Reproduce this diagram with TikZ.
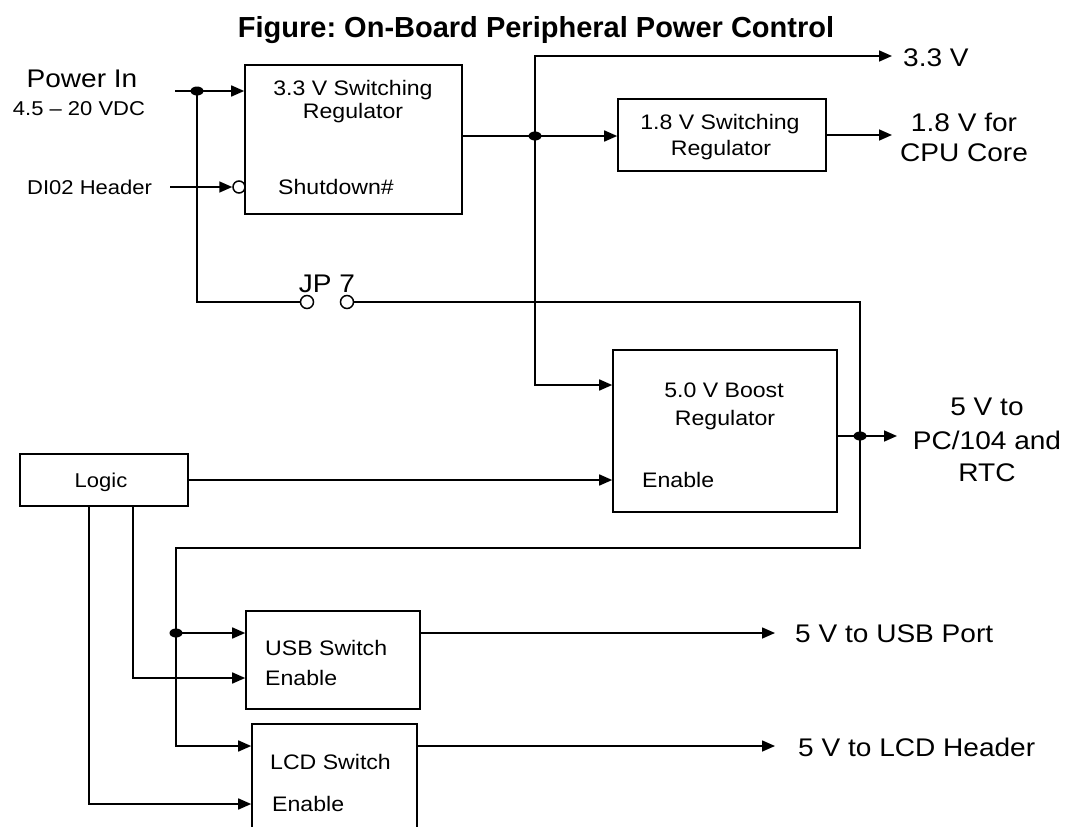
\documentclass[tikz,border=0pt]{standalone}
\usepackage{fontspec}
\setmainfont{Liberation Sans}
\newfontfamily\wf[FakeStretch=1.1]{Liberation Sans}
\usetikzlibrary{arrows.meta,shapes.geometric}
\frenchspacing
\tikzset{
  wire/.style={line width=1.6pt},
  arr/.style={wire,-{Triangle[length=13pt,width=11pt]}},
  box/.style={draw,line width=1.6pt,rectangle,inner sep=0},
  dot/.style={ellipse,fill,inner sep=0,minimum width=13pt,minimum height=9pt},
  bub/.style={circle,draw,line width=1.5pt,inner sep=0,minimum size=12pt},
  lb/.style={font=\wf\fontsize{25.5}{30}\selectfont,inner sep=0,text height=18.3pt,text depth=0pt},
  bx/.style={font=\wf\fontsize{21}{25}\selectfont,inner sep=0,text height=15pt,text depth=0pt},
  sm/.style={font=\wf\fontsize{20}{24}\selectfont,inner sep=0,text height=14.3pt,text depth=0pt},
  ttl/.style={font=\bfseries\fontsize{29}{33}\selectfont,inner sep=0,text height=21pt,text depth=0pt}
}
\begin{document}
\begin{tikzpicture}[x=1pt,y=-1pt]
\clip (0,0) rectangle (1066,827);
\fill[white] (0,0) rectangle (1066,827);
% title
\node[ttl] (title) at (536,27) {Figure: On-Board Peripheral Power Control};
% boxes
\node[box,minimum width=217pt,minimum height=149pt] (r33) at (353.5,139.5) {};
\node[box,minimum width=208pt,minimum height=72pt] (r18) at (722,135) {};
\node[box,minimum width=224pt,minimum height=162pt] (boost) at (725,431) {};
\node[box,minimum width=168pt,minimum height=52pt] (logic) at (104,480) {};
\node[box,minimum width=174pt,minimum height=98pt] (usb) at (333,660) {};
\node[box,minimum width=165pt,minimum height=146pt] (lcd) at (334.5,797) {};
% box texts
\node[bx] (t33a) at (353,88) {3.3 V Switching};
\node[bx] (t33b) at (353,111) {Regulator};
\node[bx,anchor=west] (tsd) at (278,187) {Shutdown\#};
\node[bx] (t18a) at (720,122) {1.8 V Switching};
\node[bx] (t18b) at (721,148) {Regulator};
\node[bx] (tba) at (724,390) {5.0 V Boost};
\node[bx] (tbb) at (725,418) {Regulator};
\node[bx,anchor=west] (tben) at (642,480) {Enable};
\node[sm] (tlog) at (101,480) {Logic};
\node[bx,anchor=west] (tusb) at (265,648) {USB Switch};
\node[bx,anchor=west] (tusbe) at (265,678) {Enable};
\node[bx,anchor=west] (tlcd) at (270,762) {LCD Switch};
\node[bx,anchor=west] (tlcde) at (272,804) {Enable};
% outside labels
\node[lb] (pin) at (82,78) {Power In};
\node[sm] (vdc) at (79,108) {4.5 – 20 VDC};
\node[sm,anchor=west] (dio) at (27,187) {DI02 Header};
\node[lb] (jpl) at (327,283) {JP 7};
\node[lb,anchor=west] (o33) at (903,57) {3.3 V};
\node[lb] (o18a) at (964,122) {1.8 V for};
\node[lb] (o18b) at (964,152) {CPU Core};
\node[lb] (o5a) at (987,406) {5 V to};
\node[lb] (o5b) at (987,440) {PC/104 and};
\node[lb] (o5c) at (987,472) {RTC};
\node[lb,anchor=west] (ousb) at (795,633) {5 V to USB Port};
\node[lb,anchor=west] (olcd) at (798,747) {5 V to LCD Header};
% junctions and symbols
\node[dot] (d1) at (197,91) {};
\node[dot] (d2) at (535,136) {};
\node[dot] (d5) at (860,436) {};
\node[dot] (du) at (176,633) {};
\node[bub] (sd) at (239,187) {};
\node[bub,minimum size=13pt] (j1) at (307,302) {};
\node[bub,minimum size=13pt] (j2) at (347,302) {};
% free ends / bends
\coordinate (pinS) at (175,91);
\coordinate (dioS) at (170,187);
\coordinate (top) at (535,56);
\coordinate (a33) at (892,56);
\coordinate (a18) at (892,135);
\coordinate (a5) at (897,436);
\coordinate (bin) at (535,385);
\coordinate (ret) at (860,548);
\coordinate (lcdin) at (176,746);
\coordinate (l1) at (89,506);
\coordinate (l2) at (133,506);
\coordinate (au) at (775,633);
\coordinate (al) at (775,746);
% power in
\draw[wire] (pinS) -- (d1.center);
\draw[arr] (d1.center) -- (r33.west |- d1.center);
\draw[arr] (dioS) -- (sd.west);
% jumper path
\draw[wire] (d1.center) -- (d1.center |- j1) -- (j1.west);
\draw[arr] (j2.east) -- (j2.east -| ret) -- (ret) -- (ret -| du) -- (lcdin) -- (lcd.west |- lcdin);
\draw[arr] (du.center) -- (usb.west |- du.center);
% 3.3 V distribution
\draw[wire] (r33.east |- d2.center) -- (d2.center);
\draw[arr] (d2.center) -- (r18.west |- d2.center);
\draw[arr] (d2.center) -- (top) -- (a33);
\draw[arr] (d2.center) -- (bin) -- (boost.west |- bin);
\draw[arr] (r18.east) -- (a18);
% boost output
\draw[wire] (boost.east |- d5.center) -- (d5.center);
\draw[arr] (d5.center) -- (a5);
% logic
\draw[arr] (logic.east) -- (boost.west |- logic.east);
\draw[arr] (l1) -- (l1 |- tlcde) -- (lcd.west |- tlcde);
\draw[arr] (l2) -- (l2 |- tusbe) -- (usb.west |- tusbe);
% outputs
\draw[arr] (usb.east |- au) -- (au);
\draw[arr] (lcd.east |- al) -- (al);
\end{tikzpicture}
\end{document}
